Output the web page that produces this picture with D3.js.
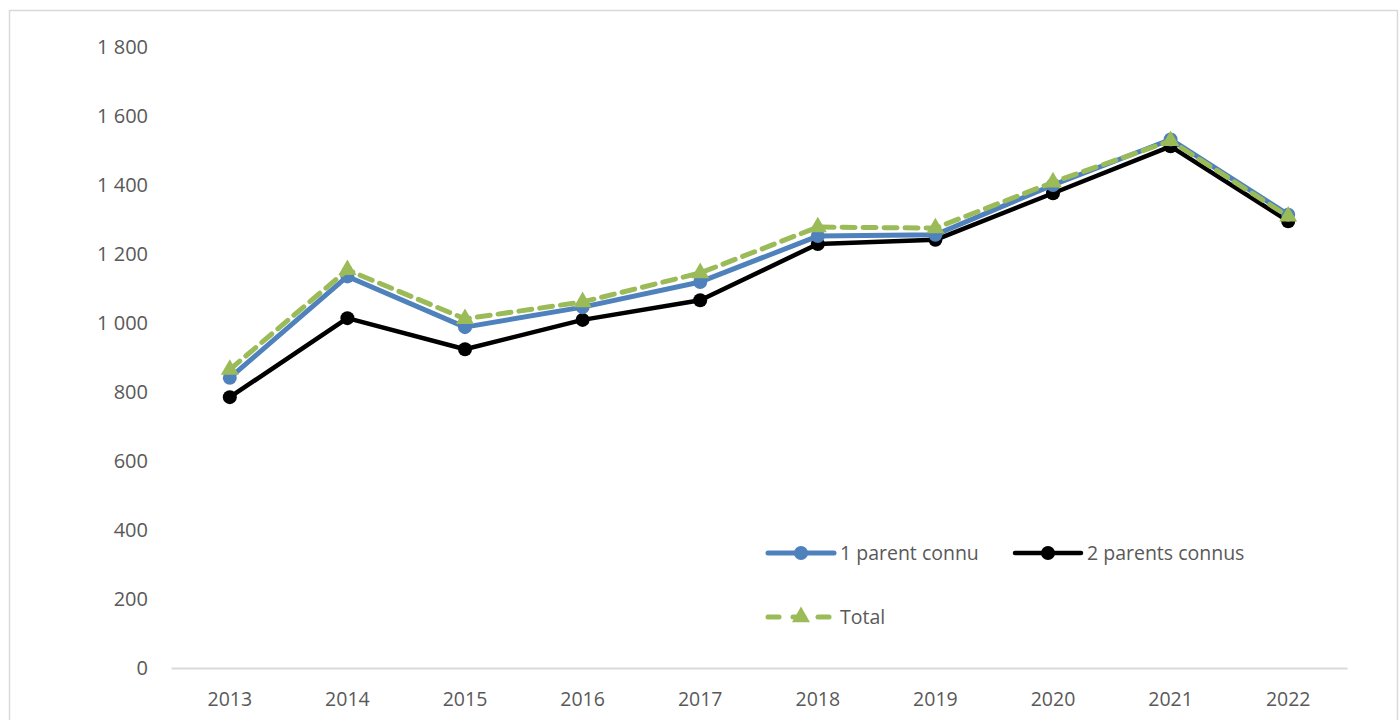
<!DOCTYPE html>
<html>
<head>
<meta charset="utf-8">
<script src="https://cdn.jsdelivr.net/npm/d3@7"></script>
<style>
  body { margin: 0; background: #fff; }
  text { font-family: "Open Sans", "Noto Sans", sans-serif; fill: #595959; }
</style>
</head>
<body>
<div id="chart"></div>
<script>
// Values
const years = ["2013", "2014", "2015", "2016", "2017", "2018", "2019", "2020", "2021", "2022"];
const oneParent = [841, 1135, 988, 1046, 1119, 1252, 1256, 1400, 1532, 1314];
const twoParents = [785, 1014, 924, 1009, 1066, 1229, 1241, 1376, 1512, 1295];
const total = [865, 1154, 1012, 1061, 1145, 1278, 1275, 1408, 1528, 1309];
const yTicks = [0, 200, 400, 600, 800, 1000, 1200, 1400, 1600, 1800];

const W = 1400, H = 720;
const margin = { top: 47, right: 53, bottom: 52, left: 171 };

const svg = d3.select('#chart').append('svg')
    .attr('width', W)
    .attr('height', H);

// chart frame
svg.append('rect')
    .attr('x', 9.5).attr('y', 10.5)
    .attr('width', 1388).attr('height', 740)
    .attr('fill', 'none')
    .attr('stroke', '#d9d9d9')
    .attr('stroke-width', 1.5);

const x = d3.scaleBand()
    .domain(years)
    .range([margin.left, W - margin.right]);

const y = d3.scaleLinear()
    .domain([0, 1800])
    .range([H - margin.bottom, margin.top]);

const fmt = d => d3.format(',')(d).replace(',', ' ');

// Y axis (labels only)
const yAxis = svg.append('g')
    .attr('transform', `translate(${margin.left},0)`)
    .call(d3.axisLeft(y).tickValues(yTicks).tickFormat(fmt).tickSize(0).tickPadding(23));
yAxis.select('.domain').remove();
yAxis.selectAll('text')
    .style('font-size', '20px')
    .style('font-family', '"Open Sans", sans-serif')
    .attr('fill', '#595959');

// X axis
const xAxis = svg.append('g')
    .attr('transform', `translate(0,${y(0)})`)
    .call(d3.axisBottom(x).tickSize(0).tickPadding(24));
xAxis.select('.domain').attr('stroke', '#d9d9d9').attr('stroke-width', 2);
xAxis.selectAll('text')
    .style('font-size', '19.5px')
    .style('font-family', '"Open Sans", sans-serif')
    .attr('fill', '#595959');

const cx = d => x(d) + x.bandwidth() / 2;

const series = [
    { name: '1 parent connu', values: oneParent, color: '#4F81BD', width: 5, dash: null, marker: 'circle', r: 7 },
    { name: '2 parents connus', values: twoParents, color: '#000000', width: 4.5, dash: null, marker: 'circle', r: 7 },
    { name: 'Total', values: total, color: '#9BBB59', width: 5, dash: '13,8', marker: 'triangle', r: 8 }
];

const line = d3.line()
    .x((d, i) => cx(years[i]))
    .y(d => y(d));

const triangle = d3.symbol().type(d3.symbolTriangle).size(140);

function drawMarker(g, s, px, py) {
    if (s.marker === 'circle') {
        g.append('circle')
            .attr('cx', px).attr('cy', py).attr('r', s.r)
            .attr('fill', s.color);
    } else {
        g.append('path')
            .attr('d', triangle())
            .attr('transform', `translate(${px},${py})`)
            .attr('fill', s.color);
    }
}

// draw order: black under blue under green
[series[1], series[0], series[2]].forEach(s => {
    const g = svg.append('g');
    g.append('path')
        .datum(s.values)
        .attr('d', line)
        .attr('fill', 'none')
        .attr('stroke', s.color)
        .attr('stroke-width', s.width)
        .attr('stroke-linejoin', 'round')
        .attr('stroke-linecap', 'round')
        .attr('stroke-dasharray', s.dash);
    s.values.forEach((v, i) => drawMarker(g, s, cx(years[i]), y(v)));
});

// Legend
const legendPos = [
    { x: 768, y: 553 },
    { x: 1015, y: 553 },
    { x: 768, y: 617 }
];
series.forEach((s, i) => {
    const p = legendPos[i];
    const g = svg.append('g').attr('transform', `translate(${p.x},${p.y})`);
    g.append('line')
        .attr('x1', 0).attr('x2', 66)
        .attr('y1', 0).attr('y2', 0)
        .attr('stroke', s.color)
        .attr('stroke-width', s.width)
        .attr('stroke-linecap', 'round')
        .attr('stroke-dasharray', s.dash ? '11,14' : null);
    drawMarker(g, s, 33, 0);
    g.append('text')
        .attr('x', 72).attr('y', 0)
        .attr('dy', '0.35em')
        .style('font-size', '19.5px')
        .text(s.name);
});
</script>
</body>
</html>
